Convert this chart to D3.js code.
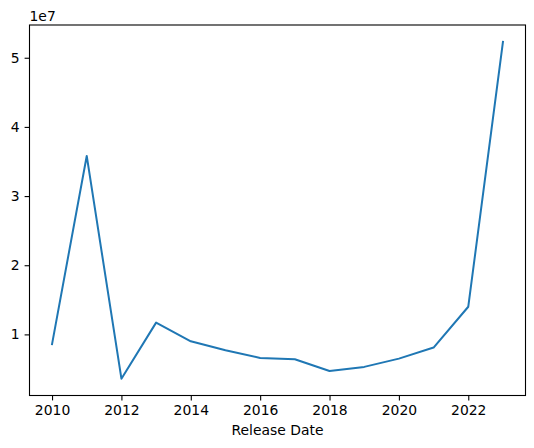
<!DOCTYPE html>
<html><head><meta charset="utf-8">
<script src="https://cdn.jsdelivr.net/npm/d3@7"></script>
<style>body{margin:0;background:#fff}svg{display:block}text{font-family:"DejaVu Sans";fill:#000}</style>
</head><body>
<script>
const years = [2010,2011,2012,2013,2014,2015,2016,2017,2018,2019,2020,2021,2022,2023];
const values = [8.6e6,35.8e6,3.6e6,11.7e6,9.0e6,7.7e6,6.6e6,6.4e6,4.7e6,5.3e6,6.5e6,8.1e6,14.0e6,52.3e6];
const xTicks = [2010,2012,2014,2016,2018,2020,2022];
const yTicks = [1e7,2e7,3e7,4e7,5e7];
const xLabel = "Release Date";
const offsetLabel = "1e7";

const W=534,H=448, L=29.5, R=525.5, T=25, B=395.5;
const svg=d3.select("body").append("svg").attr("width",W).attr("height",H);
const xmin=d3.min(years), xmax=d3.max(years), xr=xmax-xmin;
const ymin=d3.min(values), ymax=d3.max(values), yr=ymax-ymin;
const x=d3.scaleLinear().domain([xmin-0.05*xr,xmax+0.05*xr]).range([L,R]);
const y=d3.scaleLinear().domain([ymin-0.05*yr,ymax+0.05*yr]).range([B,T]);

const fs="13.9px";
const xa=svg.append("g").attr("transform",`translate(0,${B})`)
  .call(d3.axisBottom(x).tickValues(xTicks).tickFormat(d3.format("d")).tickSize(4.9).tickPadding(4.9));
const ya=svg.append("g").attr("transform",`translate(${L},0)`)
  .call(d3.axisLeft(y).tickValues(yTicks).tickFormat(d=>d/1e7).tickSize(4.9).tickPadding(4.9));
[xa,ya].forEach(a=>{a.select(".domain").remove();a.selectAll("text").style("font-size",fs).style("font-family","DejaVu Sans");a.selectAll("line").attr("stroke","#000").attr("stroke-width",1.1);});

svg.append("path").datum(years.map((d,i)=>[d,values[i]]))
  .attr("d",d3.line().x(d=>x(d[0])).y(d=>y(d[1])))
  .attr("fill","none").attr("stroke","#1f77b4").attr("stroke-width",2).attr("stroke-linejoin","round").attr("stroke-linecap","square");

svg.append("rect").attr("x",L).attr("y",T).attr("width",R-L).attr("height",B-T)
  .attr("fill","none").attr("stroke","#000").attr("stroke-width",1.1);

svg.append("text").attr("x",L).attr("y",T-4.5).style("font-size",fs).text(offsetLabel);
svg.append("text").attr("x",(L+R)/2).attr("y",435.3).attr("text-anchor","middle").style("font-size",fs).text(xLabel);
</script>
</body></html>
